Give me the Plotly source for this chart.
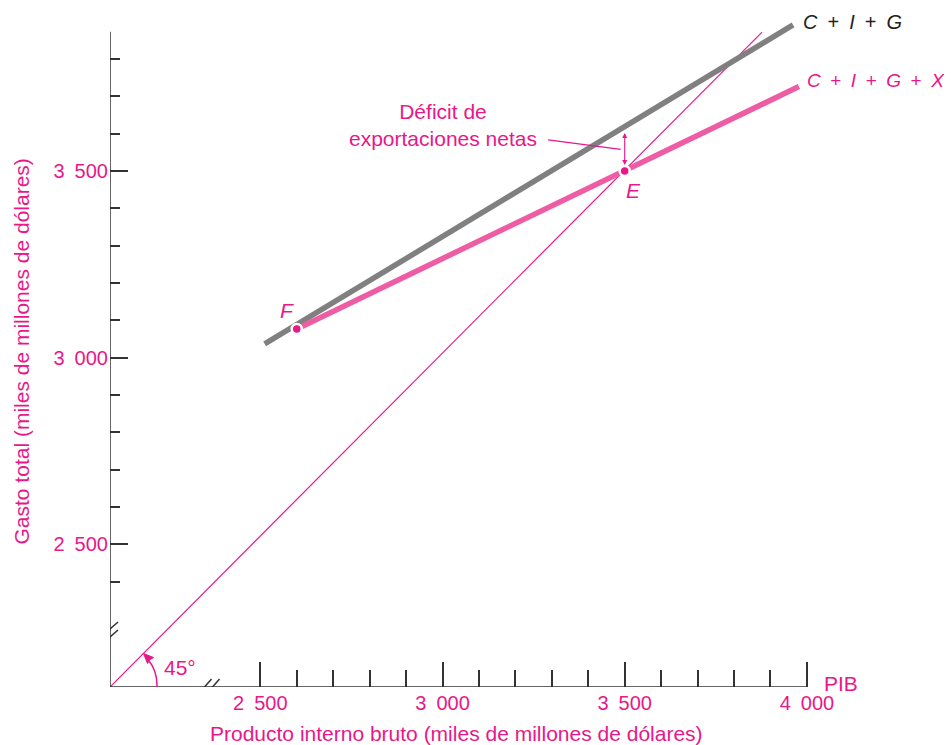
import plotly.graph_objects as go

# ---------------- data ----------------
gdp_ticks = [2500, 3000, 3500, 4000]
gdp_tick_labels = ["2\u2002500", "3\u2002000", "3\u2002500", "4\u2002000"]
gdp_minor = [2600, 2700, 2800, 2900, 3100, 3200, 3300, 3400, 3600, 3700, 3800, 3900]
spend_ticks = [2500, 3000, 3500]
spend_tick_labels = ["2\u2002500", "3\u2002000", "3\u2002500"]
spend_minor = [2400, 2600, 2700, 2800, 2900, 3100, 3200, 3300, 3400, 3600, 3700, 3800]

cig_x = [2512, 3962]          # C + I + G
cig_y = [3037, 3891]
cigx_x = [2600, 3978]         # C + I + G + X
cigx_y = [3077, 3726]
line45_x = [2087.5, 3877]     # 45-degree line (from the broken-axis corner)
line45_y = [2118, 3872]
point_x = [2600, 3500]
point_y = [3077, 3500]
point_names = ["F", "E"]
x_axis_end = 4000
y_axis_end = 3873

# ---------------- layout geometry ----------------
OFF = 8                      # page body margin
W, H = 952 - OFF, 745 - OFF
ML, MT = 110 - OFF, 10 - OFF
PW, PH = 830, 677
MR, MB = W - ML - PW, H - MT - PH
PX_PER_X = 0.3644
PX_PER_Y = 0.3734
x0, y0 = line45_x[0], line45_y[0]
x_range = [x0, x0 + PW / PX_PER_X]
y_range = [y0, y0 + PH / PX_PER_Y]


def paper_x(page_px):
    return (page_px - OFF - ML) / PW


def paper_y(page_py):
    return (MT + PH - (page_py - OFF)) / PH


PINK = "#E8178A"
PINK_LINE = "#EE5DA3"
GRAY_LINE = "#808080"
AXIS = "#333333"
FONT = "Liberation Sans"
FS = 21
FS_TICK = 20

fig = go.Figure()
fig.add_trace(go.Scatter(x=line45_x, y=line45_y, mode="lines",
                         line=dict(color=PINK, width=1.2), hoverinfo="skip"))
fig.add_trace(go.Scatter(x=cig_x, y=cig_y, mode="lines",
                         line=dict(color=GRAY_LINE, width=5.5), hoverinfo="skip"))
fig.add_trace(go.Scatter(x=cigx_x, y=cigx_y, mode="lines",
                         line=dict(color=PINK_LINE, width=5.5), hoverinfo="skip"))
fig.add_trace(go.Scatter(x=point_x, y=point_y, mode="markers", cliponaxis=False,
                         marker=dict(color=PINK, size=10, line=dict(color="white", width=2.5)),
                         hoverinfo="skip"))

shapes = []
# axis lines
shapes.append(dict(type="line", xref="x", yref="y", x0=x0, y0=y0, x1=x_axis_end, y1=y0,
                   line=dict(color=AXIS, width=1.5)))
shapes.append(dict(type="line", xref="x", yref="y", x0=x0, y0=y0, x1=x0, y1=y_axis_end,
                   line=dict(color=AXIS, width=1.5)))
# break marks on x axis
x_break = x0 + 98.5 / PX_PER_X
for dx in (-4, 4):
    shapes.append(dict(type="line", xref="x", yref="y", xsizemode="pixel", ysizemode="pixel",
                       xanchor=x_break, yanchor=y0, x0=dx - 7, y0=-8, x1=dx + 7, y1=8,
                       line=dict(color=AXIS, width=1.5)))
# break marks on y axis
y_break = y0 + 54 / PX_PER_Y
for dy in (4, -4):
    shapes.append(dict(type="line", xref="x", yref="y", xsizemode="pixel", ysizemode="pixel",
                       xanchor=x0, yanchor=y_break, x0=-8, y0=dy - 7, x1=8, y1=dy + 7,
                       line=dict(color=AXIS, width=1.5)))
# 45 degree arc with arrowhead
shapes.append(dict(type="path", xref="x", yref="y", xsizemode="pixel", ysizemode="pixel",
                   xanchor=x0, yanchor=y0,
                   path="M 47,0 Q 47.5,16 38,27.5",
                   line=dict(color=PINK, width=1.5)))
shapes.append(dict(type="path", xref="x", yref="y", xsizemode="pixel", ysizemode="pixel",
                   xanchor=x0, yanchor=y0,
                   path="M 33.5,33.5 L 43.5,29.5 L 39.5,27 L 37.5,23.5 Z",
                   fillcolor=PINK, line=dict(color=PINK, width=1)))
# leader line from the annotation to the gap arrow
shapes.append(dict(type="line", xref="x", yref="y", x0=3290, y0=3583, x1=3489, y1=3558,
                   line=dict(color=PINK, width=1.2)))

# gap between C+I+G and C+I+G+X at E
slope = (cig_y[1] - cig_y[0]) / (cig_x[1] - cig_x[0])
cig_at_e = cig_y[0] + slope * (point_x[1] - cig_x[0])
gap_px = (cig_at_e - point_y[1]) * PX_PER_Y

annotations = [
    dict(x=point_x[1], y=point_y[1], xref="x", yref="y", ax=0, ay=-gap_px,
         axref="pixel", ayref="pixel", text="", showarrow=True, arrowside="end+start",
         arrowhead=2, arrowsize=0.9, arrowwidth=1.1, arrowcolor=PINK,
         standoff=6, startstandoff=5),
    dict(x=3000, y=3623, xref="x", yref="y", showarrow=False,
         text="Déficit de<br>exportaciones netas", font=dict(color=PINK, size=FS, family=FONT),
         align="center"),
    dict(x=point_x[0], y=point_y[0], xref="x", yref="y", showarrow=False,
         text="<i>F</i>", xshift=-10, yshift=18, font=dict(color=PINK, size=FS, family=FONT)),
    dict(x=point_x[1], y=point_y[1], xref="x", yref="y", showarrow=False,
         text="<i>E</i>", xshift=9, yshift=-20, font=dict(color=PINK, size=FS, family=FONT)),
    dict(x=cig_x[1], y=cig_y[1], xref="x", yref="y", showarrow=False, xanchor="left",
         text="<i>C</i>\u2002+\u2002<i>I</i>\u2002+\u2002<i>G</i>", xshift=8, yshift=3,
         font=dict(color="#222222", size=20, family=FONT)),
    dict(x=cigx_x[1], y=cigx_y[1], xref="x", yref="y", showarrow=False, xanchor="left",
         text="<i>C</i>\u2002+\u2002<i>I</i>\u2002+\u2002<i>G</i>\u2002+\u2002<i>X</i>",
         xshift=6, yshift=6, font=dict(color=PINK, size=19, family=FONT)),
    dict(x=x0, y=y0, xref="x", yref="y", showarrow=False, text="45°",
         xshift=70, yshift=20, font=dict(color=PINK, size=FS, family=FONT)),
    dict(x=x_axis_end, y=y0, xref="x", yref="y", showarrow=False, text="PIB",
         xanchor="left", xshift=15, yshift=4, font=dict(color=PINK, size=FS, family=FONT)),
    dict(x=paper_x(456), y=paper_y(733), xref="paper", yref="paper",
         xanchor="center", yanchor="middle",
         showarrow=False, text="Producto interno bruto (miles de millones de dólares)",
         font=dict(color=PINK, size=FS, family=FONT)),
    dict(x=paper_x(21), y=paper_y(351.5), xref="paper", yref="paper",
         xanchor="center", yanchor="middle",
         showarrow=False, textangle=-90, text="Gasto total (miles de millones de dólares)",
         font=dict(color=PINK, size=FS, family=FONT)),
]

fig.update_layout(
    width=W, height=H, margin=dict(l=ML, r=MR, t=MT, b=MB),
    paper_bgcolor="white", plot_bgcolor="white", showlegend=False,
    shapes=shapes, annotations=annotations, hovermode=False,
    font=dict(family=FONT, size=FS, color=PINK),
    xaxis=dict(range=x_range, showgrid=False, zeroline=False, showline=False,
               tickmode="array", tickvals=gdp_ticks, ticktext=gdp_tick_labels,
               ticks="inside", ticklen=25, tickwidth=1.5, tickcolor=AXIS,
               tickfont=dict(color=PINK, size=FS_TICK, family=FONT),
               ticklabelstandoff=2,
               minor=dict(tickmode="array", tickvals=gdp_minor, ticks="inside",
                          ticklen=17, tickwidth=1.5, tickcolor=AXIS, showgrid=False),
               fixedrange=True),
    yaxis=dict(range=y_range, showgrid=False, zeroline=False, showline=False,
               tickmode="array", tickvals=spend_ticks, ticktext=spend_tick_labels,
               ticks="inside", ticklen=18, tickwidth=1.5, tickcolor=AXIS,
               tickfont=dict(color=PINK, size=FS_TICK, family=FONT),
               ticklabelstandoff=1,
               minor=dict(tickmode="array", tickvals=spend_minor, ticks="inside",
                          ticklen=10, tickwidth=1.5, tickcolor=AXIS, showgrid=False),
               fixedrange=True),
)

fig.write_html("out.html", config={"displayModeBar": False})
